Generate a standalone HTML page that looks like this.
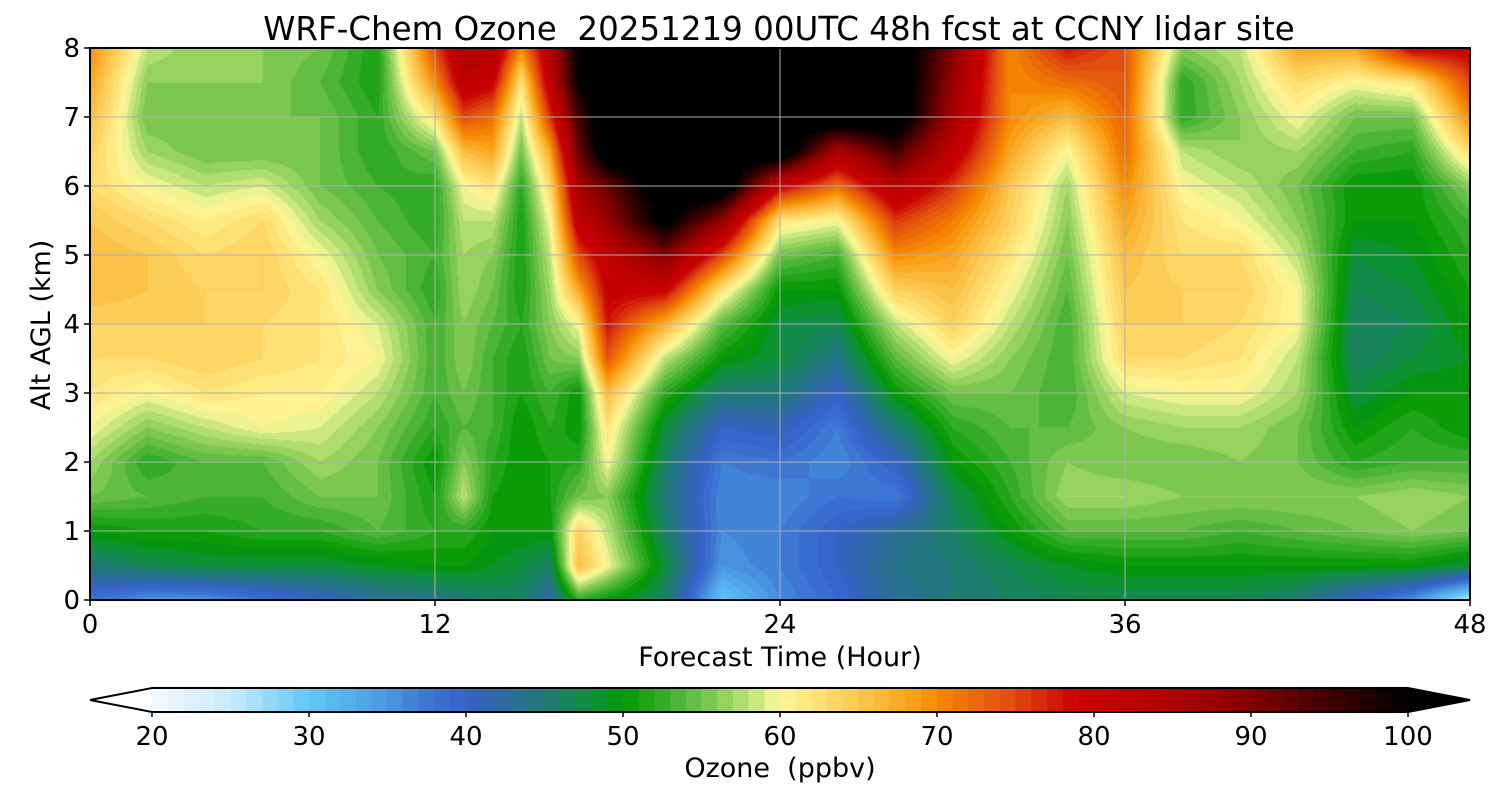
<!DOCTYPE html>
<html><head><meta charset="utf-8">
<style>
body{margin:0;background:#fff;width:1500px;height:800px;overflow:hidden;font-family:"DejaVu Sans","Liberation Sans",sans-serif;}
#wrap{position:relative;width:1500px;height:800px;}
canvas{position:absolute;left:90px;top:48px;}
svg{position:absolute;left:0;top:0;}
svg text{white-space:pre;}
</style></head><body>
<div id="wrap">
<canvas id="cv" width="1380" height="552"></canvas>
<svg id="sv" width="1500" height="800"></svg>
</div>
<script>
const hours=[0,2,4,6,8,10,12,13,14,15,16,17,18,20,22,24,26,28,30,32,34,36,38,40,42,44,46,48];
const alts=[0,0.5,1,1.5,2,2.5,3,3.5,4,4.5,5,5.5,6,6.5,7,7.5,8];
const ozone=[
[38,45,50,55,57,60,62,63,64,66,66,65,63,64,66,68,70],
[35,47,51,54,52,56,60,63,64,65,65,63,60,57,55,56,58],
[35,48,51,53,54,58,62,64,64,64,63,61,58,55,55,56,56],
[38,48,52,53,54,60,61,63,63,64,64,63,59,55,55,56,56],
[40,48,52,55,57,59,61,62,62,62,60,57,55,55,55,54,55],
[43,49,54,55,55,56,58,60,59,56,55,54,53,52,52,51,51],
[44,50,52,51,50,52,53,53,53,52,53,52,52,55,62,70,75],
[45,50,52,58,56,54,55,56,56,57,57,58,60,66,75,82,85],
[46,49,50,51,52,53,53,53,54,55,56,58,62,68,72,80,85],
[46,48,50,50,50,50,51,51,52,51,51,51,52,55,58,62,70],
[42,46,50,51,51,52,53,55,56,57,58,60,63,68,76,82,84],
[52,66,64,55,52,50,50,56,60,68,75,82,86,92,95,100,100],
[50,60,58,56,60,62,66,74,78,80,82,88,92,105,105,105,105],
[46,48,46,45,46,48,52,58,67,80,90,102,105,105,105,105,105],
[30,35,36,36,37,40,45,50,54,62,75,88,105,105,105,105,105],
[36,37,37,36,38,41,45,48,48,50,55,62,80,105,105,105,105],
[39,40,40,38,36,37,40,44,47,50,53,60,72,85,105,105,105],
[43,44,43,37,40,45,50,54,58,64,70,76,84,95,105,105,105],
[45,45,46,47,50,52,55,60,64,66,68,71,76,82,86,88,90],
[46,47,50,52,53,54,55,56,58,60,62,64,65,68,70,70,70],
[47,49,54,57,56,54,53,53,53,54,55,56,57,60,66,72,78],
[47,50,54,57,55,56,59,63,64,65,66,68,70,72,73,74,74],
[47,50,54,56,55,57,60,63,64,64,63,62,60,58,52,52,56],
[47,50,53,56,56,57,60,62,63,64,63,60,58,56,56,57,58],
[45,50,54,56,55,55,57,58,60,60,58,56,55,57,60,63,68],
[40,50,55,56,52,50,48,46,46,47,48,50,50,53,55,60,68],
[35,50,56,57,53,52,50,48,47,48,49,50,50,52,55,62,80],
[25,48,55,56,53,50,50,49,50,51,52,53,56,63,70,75,80]];
const cbTicks=[20,30,40,50,60,70,80,90,100];
const xTicks=[0,12,24,36,48];
const yTicks=[0,1,2,3,4,5,6,7,8];

const anchors=[[20,'#f4f9ff'],[25,'#c8eafc'],[30,'#60c8fa'],[35,'#4a98e0'],[38,'#3a70d0'],[40,'#3562c8'],[42,'#2f6aa8'],[45,'#207a78'],[48,'#109040'],[50,'#009800'],[53,'#40b030'],[56,'#88cc55'],[59,'#d8ee88'],[60,'#fff898'],[65,'#fcc850'],[69,'#f89a10'],[70,'#f68a00'],[75,'#e04810'],[79,'#c80000'],[82,'#c00000'],[87,'#a00000'],[90,'#800000'],[95,'#400000'],[100,'#000000']];
function hex(c){return [parseInt(c.substr(1,2),16),parseInt(c.substr(3,2),16),parseInt(c.substr(5,2),16)];}
function cmap(v){
  if(v<=20)return [255,255,255]; if(v>=100)return [0,0,0];
  v=Math.floor(v)+0.5;
  for(let i=0;i<anchors.length-1;i++){const a=anchors[i],b=anchors[i+1];
    if(v>=a[0]&&v<=b[0]){const t=(v-a[0])/(b[0]-a[0]);const A=hex(a[1]),B=hex(b[1]);return [0,1,2].map(k=>Math.round(A[k]+(B[k]-A[k])*t));}}
  return [0,0,0];
}
const PX0=90,PX1=1470,PY0=600,PY1=48;
const xs=h=>PX0+(h-hours[0])/(hours[hours.length-1]-hours[0])*(PX1-PX0);
const ys=a=>PY0-(a-alts[0])/(alts[alts.length-1]-alts[0])*(PY0-PY1);
function idx(arr,v){let i=0;while(i<arr.length-2&&v>arr[i+1])i++;return [i,(v-arr[i])/(arr[i+1]-arr[i])];}
const cv=document.getElementById('cv'),ctx=cv.getContext('2d');
const W=cv.width,H=cv.height,img=ctx.createImageData(W,H);
for(let py=0;py<H;py++){
  const a=alts[alts.length-1]-(py+0.5)/H*(alts[alts.length-1]-alts[0]);
  const [j,ty]=idx(alts,a);
  for(let px=0;px<W;px++){
    const h=hours[0]+(px+0.5)/W*(hours[hours.length-1]-hours[0]);
    const [i,tx]=idx(hours,h);
    const v=(ozone[i][j]*(1-tx)+ozone[i+1][j]*tx)*(1-ty)+(ozone[i][j+1]*(1-tx)+ozone[i+1][j+1]*tx)*ty;
    const c=cmap(v),o=(py*W+px)*4;
    img.data[o]=c[0];img.data[o+1]=c[1];img.data[o+2]=c[2];img.data[o+3]=255;
  }
}
ctx.putImageData(img,0,0);

const sv=document.getElementById('sv'),NS='http://www.w3.org/2000/svg';
function el(t,at,txt){const e=document.createElementNS(NS,t);for(const k in at)e.setAttribute(k,at[k]);if(txt!==undefined)e.textContent=txt;sv.appendChild(e);return e;}
let e;
xTicks.forEach(t=>{
  e=el('line',{x1:xs(t),x2:xs(t),y1:PY1,y2:PY0,stroke:'#b0b0b0','stroke-width':1});
  
  e=el('line',{x1:xs(t),x2:xs(t),y1:PY0,y2:PY0+6,stroke:'#000','stroke-width':1.5});
  
  e=el('text',{x:xs(t),y:633,'font-size':26,'text-anchor':'middle'},t);
  
});
yTicks.forEach(t=>{
  e=el('line',{x1:PX0,x2:PX1,y1:ys(t),y2:ys(t),stroke:'#b0b0b0','stroke-width':1});
  
  e=el('line',{x1:PX0-6,x2:PX0,y1:ys(t),y2:ys(t),stroke:'#000','stroke-width':1.5});
  
  e=el('text',{x:PX0-10,y:ys(t)+9,'font-size':26,'text-anchor':'end'},t);
  
});
e=el('rect',{x:PX0,y:PY1,width:PX1-PX0,height:PY0-PY1,fill:'none',stroke:'#000','stroke-width':2});

e=el('text',{x:779,y:40,'font-size':32.5,'text-anchor':'middle'},'WRF-Chem Ozone  20251219 00UTC 48h fcst at CCNY lidar site');

e=el('text',{x:780,y:666,'font-size':27,'text-anchor':'middle'},'Forecast Time (Hour)');

e=el('text',{x:50,y:325,'font-size':27,'text-anchor':'middle',transform:'rotate(-90 50 325)'},'Alt AGL (km)');

const CB0=152,CB1=1408,CBY=688,CBH=24;
const cx=v=>CB0+(v-20)/80*(CB1-CB0);
for(let v=20;v<100;v+=1){const c=cmap(v+0.5);
  e=el('rect',{x:cx(v),y:CBY,width:cx(v+1)-cx(v)+0.5,height:CBH,fill:'rgb('+c.join(',')+')'});
  }
e=el('polygon',{points:`${CB0},${CBY} ${CB0},${CBY+CBH} 90,${CBY+CBH/2}`,fill:'#fff'});

e=el('polygon',{points:`${CB1},${CBY} ${CB1},${CBY+CBH} 1470,${CBY+CBH/2}`,fill:'#000'});

e=el('polygon',{points:`90,${CBY+CBH/2} ${CB0},${CBY} ${CB1},${CBY} 1470,${CBY+CBH/2} ${CB1},${CBY+CBH} ${CB0},${CBY+CBH}`,fill:'none',stroke:'#000','stroke-width':2});

cbTicks.forEach(t=>{
  e=el('line',{x1:cx(t),x2:cx(t),y1:CBY+CBH,y2:CBY+CBH+5,stroke:'#000','stroke-width':1.5});
  
  e=el('text',{x:cx(t),y:745,'font-size':26,'text-anchor':'middle'},t);
  
});
e=el('text',{x:780,y:777,'font-size':27,'text-anchor':'middle'},'Ozone  (ppbv)');

</script>
</body></html>
